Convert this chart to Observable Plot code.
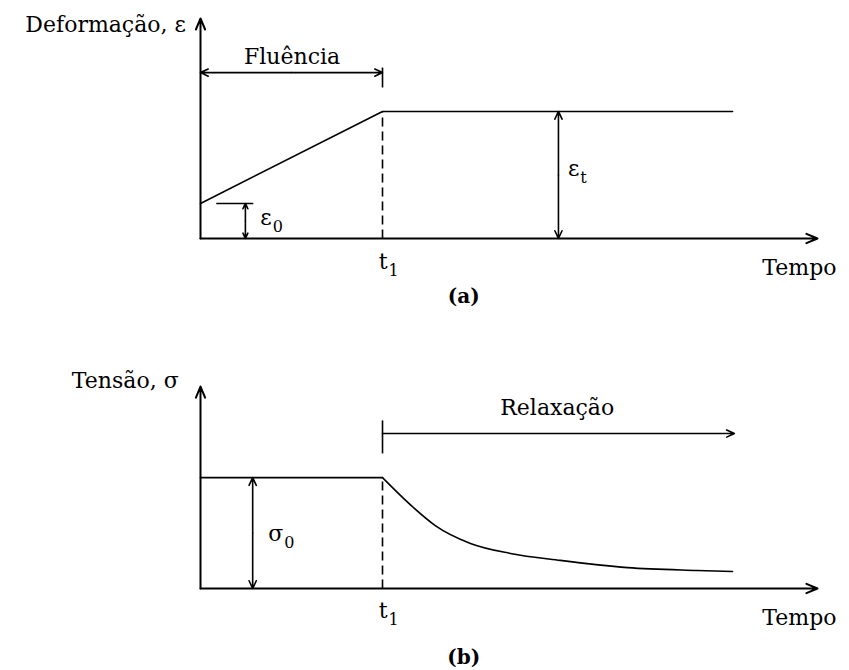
<!DOCTYPE html>
<html>
<head>
<meta charset="utf-8">
<script src="https://cdn.jsdelivr.net/npm/d3@7"></script>
<script src="https://cdn.jsdelivr.net/npm/@observablehq/plot@0.6"></script>
<style>
  html, body { margin: 0; padding: 0; background: #fff; }
  #chart { width: 849px; height: 670px; overflow: hidden; }
  #chart svg { display: block; }
</style>
</head>
<body>
<div id="chart"></div>
<script>
// ---------- Panel (a): Deformação (fluência) ----------
const creepTime   = [0, 3, 8.77];
const creepStrain = [1.67, 6.05, 6.05];
const t1 = 3;
const eps0 = 1.67;
const epsT = 6.05;
const axisEndX = 10.17;
const axisTopA = 10.48;
const fluenciaY = 7.9;
const fluenciaTick = [7.19, 8.14];
const eps0ArrowX = 0.74;
const eps0Line = [0.26, 0.87];
const epsTArrowX = 5.9;

// ---------- Panel (b): Tensão (relaxação) ----------
const relaxTime   = [0, 3.0, 3.51, 3.87, 4.45, 5.11, 5.93, 7.04, 8.19, 8.77];
const relaxStress = [5.41, 5.41, 3.95, 3.07, 2.20, 1.71, 1.37, 1.02, 0.88, 0.83];
const sigma0 = 5.41;
const axisTopB = 9.85;
const relaxY = 7.56;
const relaxEnd = 8.8;
const relaxTick = [6.59, 8.2];
const sigma0ArrowX = 0.86;

// ---------- Text labels ----------
const yTitleA = [{x: -0.24, y: 9.81, text: "Deformação, ε"}];
const spanLabelA = [{x: 1.51, y: 8.33, text: "Fluência"}];
const xTitleA = [{x: 9.26, y: -1.76, text: "Tempo"}];
const symbolsA = [
  {x: 3.1, y: -1.43, main: "t", sub: "1"},
  {x: 1.19, y: 0.62, main: "ε", sub: "0"},
  {x: 6.26, y: 3.0, main: "ε", sub: "t"}
];
const panelTagA = [{x: 4.34, y: -3.05, text: "(a)"}];

const yTitleB = [{x: -0.36, y: 9.76, text: "Tensão, σ"}];
const spanLabelB = [{x: 5.88, y: 8.44, text: "Relaxação"}];
const xTitleB = [{x: 9.26, y: -1.8, text: "Tempo"}];
const symbolsB = [
  {x: 3.1, y: -1.46, main: "t", sub: "1"},
  {x: 1.38, y: 2.34, main: "σ", sub: "0"}
];
const panelTagB = [{x: 4.34, y: -3.66, text: "(b)"}];

const FONT = "DejaVu Serif";
const W = 849, H = 335;
const X = {domain: [0, 10], range: [200, 806.7]};

function txt(data, anchor, extra = {}) {
  return Plot.text(data, {x: "x", y: "y", text: "text", textAnchor: anchor, lineAnchor: "bottom",
    fontFamily: FONT, fontSize: 22, ...extra});
}

function symbolMarks(symbols) {
  return [
    Plot.text(symbols, {x: "x", y: "y", text: "main", textAnchor: "end", lineAnchor: "bottom",
      fontFamily: FONT, fontSize: 22, dx: -1}),
    Plot.text(symbols, {x: "x", y: "y", text: "sub", textAnchor: "start", lineAnchor: "bottom",
      fontFamily: FONT, fontSize: 16, dy: 7})
  ];
}

function seg(x1, y1, x2, y2, extra = {}) {
  return Plot.link([{x1, y1, x2, y2}], {x1: "x1", y1: "y1", x2: "x2", y2: "y2",
    stroke: "black", strokeWidth: 1.6, ...extra});
}

function arrow(x1, y1, x2, y2, sw = 1.6, hl = 8, ha = 50) {
  return Plot.arrow([{x1, y1, x2, y2}], {x1: "x1", y1: "y1", x2: "x2", y2: "y2",
    stroke: "black", strokeWidth: sw, headLength: hl, headAngle: ha});
}

function doubleArrow(x1, y1, x2, y2) {
  const mx = (x1 + x2) / 2, my = (y1 + y2) / 2;
  return [arrow(mx, my, x1, y1), arrow(mx, my, x2, y2)];
}

function axes(top) {
  return [arrow(0, 0, axisEndX, 0, 2, 9, 45), arrow(0, 0, 0, top, 2, 9, 45)];
}

// ----- Panel (a)
const creepData = creepTime.map((t, i) => ({t, v: creepStrain[i]}));
const plotA = Plot.plot({
  width: W, height: H,
  marginTop: 0, marginRight: 0, marginBottom: 0, marginLeft: 0,
  x: {...X, axis: null},
  y: {domain: [0, 10], range: [238, 28], axis: null},
  marks: [
    ...axes(axisTopA),
    Plot.line(creepData, {x: "t", y: "v", stroke: "black", strokeWidth: 1.6}),
    seg(t1, 0, t1, epsT, {strokeDasharray: "9,5"}),
    ...doubleArrow(0, fluenciaY, t1, fluenciaY),
    seg(t1, fluenciaTick[0], t1, fluenciaTick[1]),
    seg(eps0Line[0], eps0, eps0Line[1], eps0),
    ...doubleArrow(eps0ArrowX, 0, eps0ArrowX, eps0),
    ...doubleArrow(epsTArrowX, 0, epsTArrowX, epsT),
    txt(yTitleA, "end"),
    txt(spanLabelA, "middle"),
    txt(xTitleA, "start"),
    ...symbolMarks(symbolsA),
    txt(panelTagA, "middle", {fontSize: 20, fontWeight: "bold"})
  ]
});

// ----- Panel (b)
const relaxData = relaxTime.map((t, i) => ({t, v: relaxStress[i]}));
const plotB = Plot.plot({
  width: W, height: H,
  marginTop: 0, marginRight: 0, marginBottom: 0, marginLeft: 0,
  x: {...X, axis: null},
  y: {domain: [0, 10], range: [253, 48], axis: null},
  marks: [
    ...axes(axisTopB),
    Plot.line(relaxData.filter(d => d.t <= t1), {x: "t", y: "v", stroke: "black", strokeWidth: 1.6}),
    Plot.line(relaxData.filter(d => d.t >= t1), {x: "t", y: "v", stroke: "black", strokeWidth: 1.6,
      curve: "monotone-x"}),
    seg(t1, 0, t1, sigma0, {strokeDasharray: "9,5"}),
    arrow(t1, relaxY, relaxEnd, relaxY),
    seg(t1, relaxTick[0], t1, relaxTick[1]),
    ...doubleArrow(sigma0ArrowX, 0, sigma0ArrowX, sigma0),
    txt(yTitleB, "end"),
    txt(spanLabelB, "middle"),
    txt(xTitleB, "start"),
    ...symbolMarks(symbolsB),
    txt(panelTagB, "middle", {fontSize: 20, fontWeight: "bold"})
  ]
});

const chart = document.getElementById("chart");
chart.appendChild(plotA);
chart.appendChild(plotB);
</script>
</body>
</html>
